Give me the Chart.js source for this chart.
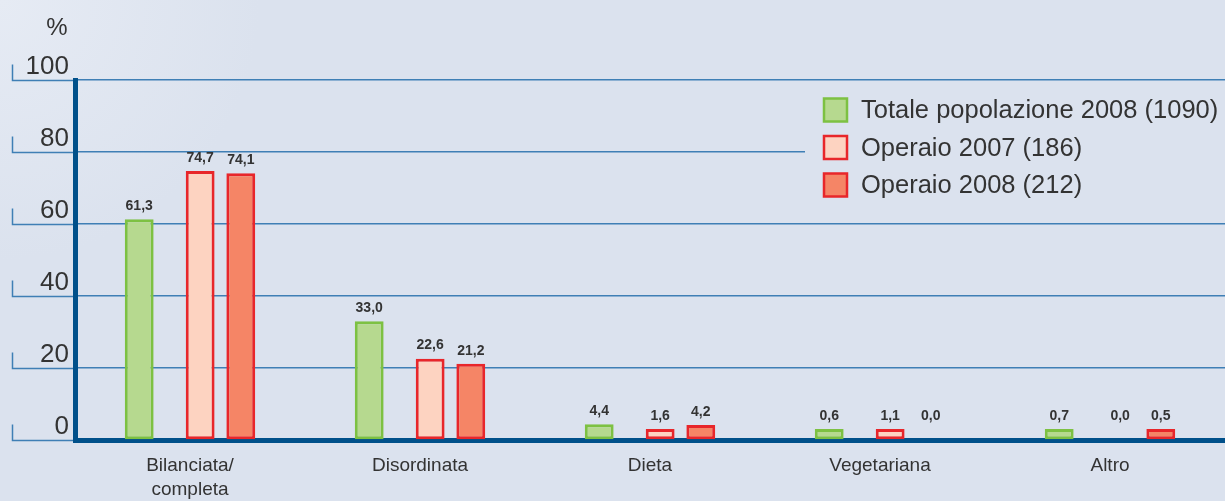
<!DOCTYPE html>
<html>
<head>
<meta charset="utf-8">
<script src="https://cdn.jsdelivr.net/npm/chart.js@4.4.1/dist/chart.umd.min.js"></script>
<style>
  html, body { margin: 0; padding: 0; }
  body {
    width: 1225px; height: 501px; overflow: hidden;
    background: radial-gradient(circle at 0 0, #e6ebf4 0, #dbe2ee 260px, #dbe2ee 100%);
  }
  #wrap { position: relative; width: 1225px; height: 501px; }
</style>
</head>
<body>
<div id="wrap"><canvas id="chart"></canvas></div>
<script>
// Dati
const categories = [["Bilanciata/", "completa"], "Disordinata", "Dieta", "Vegetariana", "Altro"];
const seriesLabels = ["Totale popolazione 2008 (1090)", "Operaio 2007 (186)", "Operaio 2008 (212)"];
const totale2008 = [61.3, 33.0, 4.4, 0.6, 0.7];
const operaio2007 = [74.7, 22.6, 1.6, 1.1, 0.0];
const operaio2008 = [74.1, 21.2, 4.2, 0.0, 0.5];
const yTicks = [0, 20, 40, 60, 80, 100];

const FONT = '"Liberation Sans", Arial, sans-serif';
const TEXT = "#333333";
const AXIS = "#00508a";
const GRID = "#3f7fb5";

const fills = ["#b6d98f", "#fdd3c1", "#f58566"];
const borders = ["#7dc142", "#e8262a", "#e8262a"];

function serie(i, data) {
  return {
    label: seriesLabels[i],
    data: data,
    backgroundColor: (c) => (c.raw === 0 ? "transparent" : fills[i]),
    borderColor: (c) => (c.raw === 0 ? "transparent" : borders[i]),
    borderWidth: 3,
    borderSkipped: false,
    minBarLength: 11,
  };
}
// colonne vuote per la spaziatura tra le barre del gruppo
function spazio() {
  return { label: "", data: categories.map(() => null), spacer: true };
}

// etichette valori + legenda + asse y disegnati a mano
const extras = {
  id: "extras",
  afterDatasetsDraw(chart) {
    const ctx = chart.ctx;
    ctx.save();
    ctx.font = "bold 14px " + FONT;
    ctx.fillStyle = TEXT;
    ctx.textAlign = "center";
    ctx.textBaseline = "bottom";
    chart.data.datasets.forEach((ds, i) => {
      if (ds.spacer) return;
      chart.getDatasetMeta(i).data.forEach((bar, j) => {
        ctx.fillText(ds.data[j].toFixed(1).replace(".", ","), bar.x, bar.y - 6);
      });
    });
    ctx.restore();
  },
  afterDraw(chart) {
    const ctx = chart.ctx;
    const area = chart.chartArea;
    const y = chart.scales.y;
    ctx.save();
    // estensioni griglia e tacche a sinistra
    ctx.strokeStyle = GRID;
    ctx.lineWidth = 1.5;
    yTicks.forEach((t) => {
      const py = Math.round(y.getPixelForValue(t)) + 0.5;
      ctx.beginPath();
      ctx.moveTo(12.5, py - 16);
      ctx.lineTo(12.5, py);
      ctx.lineTo(area.left - 2, py);
      ctx.stroke();
    });
    ctx.font = "26px " + FONT;
    ctx.fillStyle = TEXT;
    ctx.textAlign = "right";
    ctx.textBaseline = "alphabetic";
    yTicks.forEach((t) => {
      ctx.fillText(String(t), 69, y.getPixelForValue(t) - 6);
    });
    ctx.font = "24px " + FONT;
    ctx.textAlign = "center";
    ctx.fillText("%", 57, 35);

    // legenda
    ctx.fillStyle = "#dbe2ee";
    ctx.fillRect(805, 86, 420, 122);
    ctx.font = "25.5px " + FONT;
    ctx.textAlign = "left";
    ctx.textBaseline = "middle";
    seriesLabels.forEach((lab, i) => {
      const cy = 110 + i * 37.5;
      ctx.fillStyle = fills[i];
      ctx.fillRect(824, cy - 11.5, 23, 23);
      ctx.strokeStyle = borders[i];
      ctx.lineWidth = 2.5;
      ctx.strokeRect(824, cy - 11.5, 23, 23);
      ctx.fillStyle = TEXT;
      ctx.fillText(lab, 861, cy + 1);
    });
    ctx.restore();
  },
};

new Chart(document.getElementById("chart"), {
  type: "bar",
  data: {
    labels: categories,
    datasets: [
      serie(0, totale2008), spazio(), spazio(),
      serie(1, operaio2007), spazio(),
      serie(2, operaio2008),
    ],
  },
  options: {
    responsive: true,
    maintainAspectRatio: false,
    animation: false,
    layout: { padding: { top: 80, left: 75, right: 0, bottom: 0 } },
    datasets: { bar: { barPercentage: 1.42, categoryPercentage: 0.53 } },
    plugins: {
      legend: { display: false },
      tooltip: { enabled: false },
    },
    scales: {
      x: {
        grid: { display: false, drawTicks: false },
        border: { color: AXIS, width: 5 },
        ticks: { color: TEXT, font: { family: FONT, size: 19, lineHeight: 1.3 }, padding: 13 },
        afterFit(scale) { scale.height = 61; },
      },
      y: {
        min: 0,
        max: 100,
        ticks: { display: false, stepSize: 20 },
        grid: { color: GRID, lineWidth: 1.5, drawTicks: false },
        border: { color: AXIS, width: 5 },
      },
    },
  },
  plugins: [extras],
});
</script>
</body>
</html>
